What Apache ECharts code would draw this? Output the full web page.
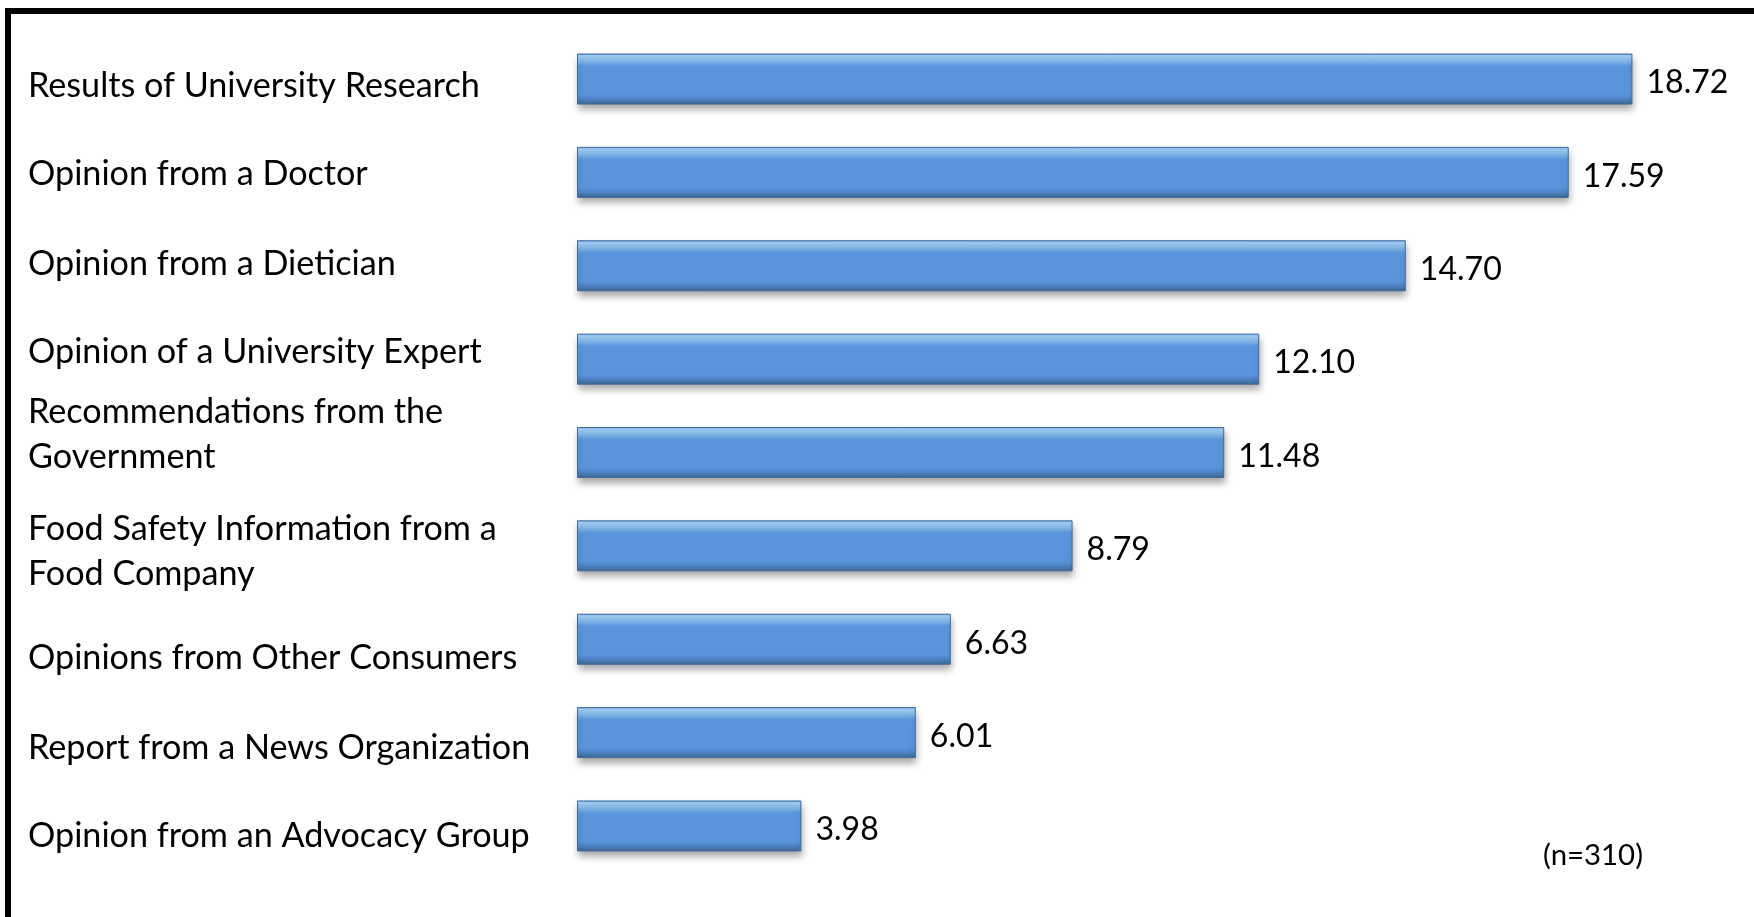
<!DOCTYPE html>
<html>
<head>
<meta charset="utf-8">
<script src="https://cdn.jsdelivr.net/npm/echarts@6/dist/echarts.min.js"></script>
<style>
html,body{margin:0;padding:0;background:#fff;}
#chart{width:1754px;height:917px;}
</style>
</head>
<body>
<div id="chart"></div>
<script>
// ---- data ----
const categories = [
  'Results of University Research',
  'Opinion from a Doctor',
  'Opinion from a Dietician',
  'Opinion of a University Expert',
  'Recommendations from the\nGovernment',
  'Food Safety Information from a\nFood Company',
  'Opinions from Other Consumers',
  'Report from a News Organization',
  'Opinion from an Advocacy Group'
];
const values = [18.72, 17.59, 14.70, 12.10, 11.48, 8.79, 6.63, 6.01, 3.98];
const sampleNote = '(n=310)';
const xMin = 0, xMax = 20;

// ---- styling helpers ----
const FONT = 'Lato';
function fit(text, targetW) {
  const c = document.createElement('canvas').getContext('2d');
  c.font = '100px ' + FONT;
  return 100 * targetW / c.measureText(text).width;
}
const catSize = fit('Results of University Research', 452);
const valSize = fit('18.72', 82);
const noteSize = fit('(n=310)', 100);
const catLine = 45;

// vertical nudges of the category text relative to its bar (px, + = down)
const nudges = [7, 2, -2, -7, -18, 6, 19, 15, 10];
const rich = {};
nudges.forEach((d, i) => {
  rich['r' + i] = {
    fontFamily: FONT, fontSize: catSize, color: '#000', lineHeight: catLine,
    align: 'left',
    padding: d >= 0 ? [2 * d, 0, 0, 0] : [0, 0, -2 * d, 0]
  };
});

const barGradient = new echarts.graphic.LinearGradient(0, 0, 0, 1, [
  { offset: 0.00, color: '#5f8fcf' },
  { offset: 0.04, color: '#a3d0f7' },
  { offset: 0.14, color: '#88bdef' },
  { offset: 0.25, color: '#5b96dc' },
  { offset: 0.80, color: '#5a95db' },
  { offset: 0.88, color: '#4f86c8' },
  { offset: 0.96, color: '#44729f' },
  { offset: 1.00, color: '#3b6291' }
]);

const chart = echarts.init(document.getElementById('chart'), null, { renderer: 'canvas' });
chart.setOption({
  backgroundColor: '#ffffff',
  animation: false,
  grid: { left: 577, right: 49.4, top: 32.35, bottom: 44.35, containLabel: false, outerBoundsMode: 'none' },
  xAxis: {
    type: 'value', min: xMin, max: xMax,
    show: false
  },
  yAxis: {
    type: 'category', data: categories, inverse: true,
    axisLine: { show: false }, axisTick: { show: false }, splitLine: { show: false },
    axisLabel: {
      align: 'left', margin: 549,
      fontFamily: FONT, fontSize: catSize, color: '#000', lineHeight: catLine,
      formatter: (v, i) => v.split('\n').map(l => '{r' + i + '|' + l + '}').join('\n'),
      rich: rich
    }
  },
  series: [{
    type: 'bar',
    data: values,
    barWidth: 51,
    itemStyle: {
      color: barGradient,
      borderColor: '#3f6aa0', borderWidth: 1,
      shadowColor: 'rgba(0,0,0,0.35)', shadowBlur: 7, shadowOffsetY: 5, shadowOffsetX: 1
    },
    label: {
      show: true, position: 'right', distance: 14, offset: [0, 4],
      fontFamily: FONT, fontSize: valSize, color: '#000',
      formatter: p => p.value.toFixed(2)
    }
  }],
  graphic: [
    { type: 'rect', shape: { x: 5, y: 8, width: 1749, height: 6 }, style: { fill: '#000' } },
    { type: 'rect', shape: { x: 5, y: 8, width: 6, height: 909 }, style: { fill: '#000' } },
    { type: 'text', x: 1593, y: 856, style: { text: sampleNote, fontFamily: FONT, fontSize: noteSize, fill: '#000', align: 'center', verticalAlign: 'middle' } }
  ]
});
</script>
</body>
</html>
